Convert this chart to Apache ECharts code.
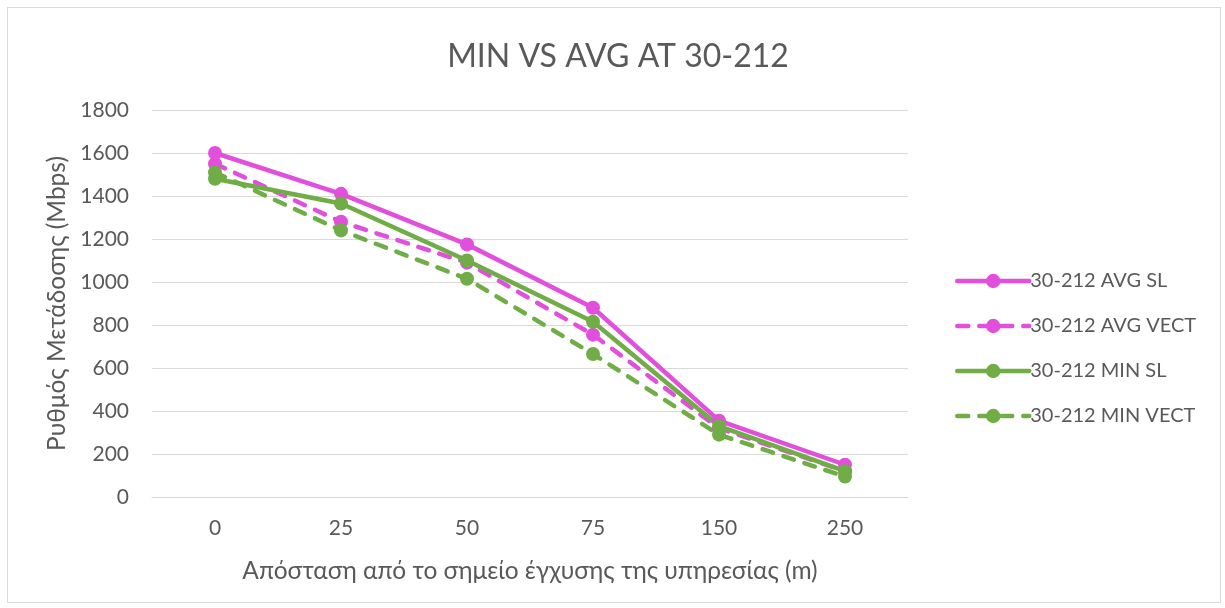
<!DOCTYPE html>
<html>
<head>
<meta charset="utf-8">
<script src="https://cdn.jsdelivr.net/npm/echarts@6/dist/echarts.min.js"></script>
<style>
  html, body { margin: 0; padding: 0; background: #fff; }
  #frame { position: absolute; left: 7px; top: 7px; width: 1214px; height: 596px; border: 1px solid #d9d9d9; box-sizing: border-box; }
  #chart { position: absolute; left: 0; top: 0; width: 1225px; height: 608px; }
</style>
</head>
<body>
<div id="frame"></div>
<div id="chart"></div>
<script>
// Distance from the service injection point (m)
const distances = ['0', '25', '50', '75', '150', '250'];

// Throughput in Mbps
const avgSL   = [1600, 1410, 1175, 880, 355, 150];
const avgVECT = [1550, 1280, 1090, 755, 320, 120];
const minSL   = [1480, 1365, 1100, 815, 330, 120];
const minVECT = [1510, 1240, 1015, 665, 290, 95];

const seriesNames = ['30-212 AVG SL', '30-212 AVG VECT', '30-212 MIN SL', '30-212 MIN VECT'];

const MAGENTA = '#E14FDC';
const GREEN = '#70AD47';
const FONT = 'Lato, "Open Sans", "DejaVu Sans", sans-serif';
const TEXT = '#595959';

function makeSeries(name, data, color, dashed) {
  return {
    name: name,
    type: 'line',
    data: data,
    symbol: 'circle',
    symbolSize: 14,
    itemStyle: { color: color },
    lineStyle: { color: color, width: 4.5, type: dashed ? [11, 11] : 'solid', cap: 'round' },
    emphasis: { disabled: true },
    z: dashed ? 2 : 3
  };
}

const chart = echarts.init(document.getElementById('chart'), null, { renderer: 'canvas' });
chart.setOption({
  animation: false,
  backgroundColor: 'transparent',
  title: {
    text: 'MIN VS AVG AT 30-212',
    left: 613,
    textAlign: 'center',
    top: 36,
    textStyle: { fontFamily: FONT, fontSize: 32, fontWeight: 'normal', color: TEXT }
  },
  grid: { left: 152, right: 317, top: 110, bottom: 111 },
  legend: {
    orient: 'vertical',
    left: 950,
    top: 266,
    itemGap: 25,
    itemWidth: 72,
    itemHeight: 18,
    data: seriesNames,
    lineStyle: { width: 4.5 },
    textStyle: { fontFamily: FONT, fontSize: 20, color: TEXT, padding: [0, 0, 0, -4] }
  },
  xAxis: {
    type: 'category',
    data: distances,
    boundaryGap: true,
    name: 'Απόσταση από το σημείο έγχυσης της υπηρεσίας (m)',
    nameLocation: 'middle',
    nameGap: 62,
    nameTextStyle: { fontFamily: FONT, fontSize: 24.5, color: TEXT },
    axisLine: { lineStyle: { color: '#d9d9d9', width: 1 } },
    axisTick: { show: false },
    axisLabel: { fontFamily: FONT, fontSize: 21, color: TEXT, margin: 21 }
  },
  yAxis: {
    type: 'value',
    min: 0,
    max: 1800,
    interval: 200,
    name: 'Ρυθμός Μετάδοσης (Mbps)',
    nameLocation: 'middle',
    nameGap: 82,
    nameTextStyle: { fontFamily: FONT, fontSize: 24.5, color: TEXT },
    axisLine: { show: false },
    axisTick: { show: false },
    splitLine: { lineStyle: { color: '#d9d9d9', width: 1 } },
    axisLabel: { fontFamily: FONT, fontSize: 21, color: TEXT, margin: 23, formatter: v => String(v) }
  },
  series: [
    makeSeries(seriesNames[0], avgSL, MAGENTA, false),
    makeSeries(seriesNames[1], avgVECT, MAGENTA, true),
    makeSeries(seriesNames[2], minSL, GREEN, false),
    makeSeries(seriesNames[3], minVECT, GREEN, true)
  ]
});
</script>
</body>
</html>
